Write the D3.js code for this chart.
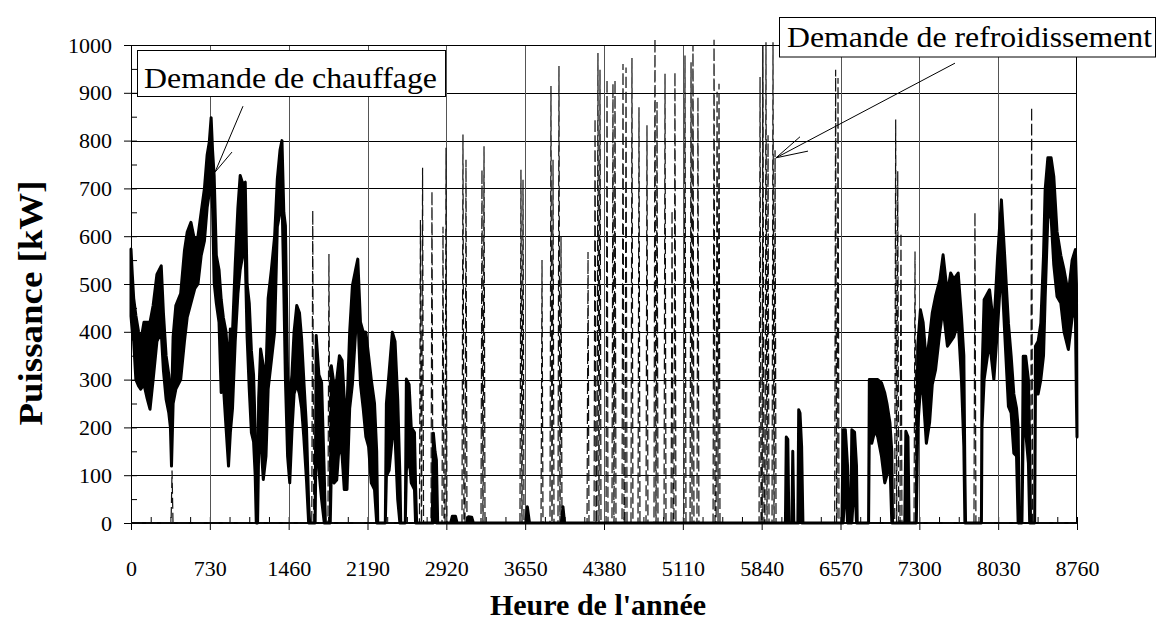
<!DOCTYPE html>
<html>
<head>
<meta charset="utf-8">
<script src="https://cdnjs.cloudflare.com/ajax/libs/d3/7.8.5/d3.min.js"></script>
<style>
  body { margin: 0; background: #fff; }
  svg { display: block; }
</style>
</head>
<body>
<script>
// heures de l'annee / puissance kW

var xTicks = [0, 730, 1460, 2190, 2920, 3650, 4380, 5110, 5840, 6570, 7300, 8030, 8760];
var yTicks = [0, 100, 200, 300, 400, 500, 600, 700, 800, 900, 1000];

// chauffage : bande journaliere [heure, min kW, max kW]
var heatBand = [
  [0,433,573],[12,400,520],[25,380,470],[45,300,434],[70,287,400],[90,280,380],[120,290,420],[150,260,420],
  [176,238,420],[205,300,455],[240,380,520],[280,400,538],[300,320,440],[325,259,350],[350,230,310],[365,200,270],
  [375,119,240],[390,250,390],[415,280,455],[460,300,480],[495,380,570],[520,430,608],[555,460,629],[590,490,590],
  [620,500,600],[650,560,650],[680,590,700],[705,660,770],[725,690,797],[742,720,848],[755,660,780],[770,503,727],
  [790,460,560],[815,420,530],[835,273,468],[855,290,430],[880,200,400],[903,119,320],[920,189,406],[940,240,400],
  [965,380,540],[990,480,660],[1011,530,727],[1035,560,710],[1058,560,713],[1075,390,500],[1095,280,460],[1115,189,360],
  [1135,170,310],[1150,100,200],[1160,0,60],[1172,0,0],[1182,150,260],[1200,180,364],[1225,91,329],[1250,140,310],
  [1270,280,470],[1300,340,530],[1330,400,600],[1355,620,720],[1380,650,780],[1398,690,800],[1415,490,650],[1430,300,622],
  [1450,140,310],[1470,84,260],[1490,190,310],[1510,270,400],[1535,290,455],[1560,270,440],[1580,240,385],[1600,180,300],
  [1625,90,200],[1645,0,40],[1655,0,0],[1705,0,0],[1715,200,392],[1740,110,310],[1765,49,294],[1790,0,100],
  [1800,0,0],[1845,0,0],[1855,110,329],[1880,84,290],[1905,90,300],[1930,170,350],[1955,140,340],[1975,70,260],
  [2000,70,240],[2025,240,400],[2050,290,496],[2080,400,530],[2100,440,552],[2125,290,420],[2150,240,400],[2175,180,399],
  [2200,160,350],[2225,84,300],[2255,70,250],[2275,0,150],[2285,0,0],[2355,0,0],[2365,98,250],[2390,110,315],
  [2420,180,399],[2445,180,380],[2470,49,259],[2490,0,100],[2498,0,0],[2540,0,0],[2550,110,301],[2575,140,290],
  [2595,84,200],[2625,70,189],[2635,0,80],[2645,0,0],
  [2790,0,0],[2800,0,188],[2815,60,150],[2828,0,132],[2840,0,0],
  [2960,0,0],[2975,0,14],[3005,0,14],[3020,0,0],
  [3110,0,0],[3125,0,13],[3155,0,12],[3170,0,0],
  [3655,0,0],[3670,0,34],[3690,0,0],
  [3985,0,0],[4000,0,34],[4015,0,0],
  [6060,0,0],[6068,0,180],[6082,0,175],[6092,0,0],[6120,0,0],[6128,0,150],[6138,0,0],
  [6175,0,0],[6183,0,237],[6195,100,230],[6210,0,160],[6222,0,0],
  [6583,0,0],[6595,0,195],[6615,100,195],[6635,0,120],[6650,0,0],[6665,0,0],[6675,0,195],[6700,100,190],[6718,0,120],[6725,0,0],
  [6830,0,0],[6837,200,300],[6860,167,300],[6890,195,300],[6915,180,300],[6950,139,293],[6980,84,272],[7000,100,250],
  [7028,126,209],[7045,0,150],[7052,0,0],[7165,0,0],[7175,0,192],[7195,0,180],[7205,0,0],[7272,0,0],
  [7285,200,370],[7310,280,446],[7335,270,420],[7365,167,335],[7395,210,390],[7420,290,440],[7450,320,474],[7490,400,509],
  [7520,450,561],[7560,370,480],[7590,380,523],[7620,390,510],[7660,420,523],[7690,300,432],[7712,160,350],[7722,0,100],
  [7728,0,0],[7875,0,0],[7880,200,307],[7900,300,467],[7950,380,488],[7990,300,410],[8025,410,558],[8060,540,676],
  [8090,400,560],[8125,244,418],[8150,230,350],[8175,146,270],[8200,140,240],[8215,0,200],[8225,0,0],[8250,0,0],
  [8262,195,349],[8285,190,349],[8310,126,300],[8322,0,150],[8330,0,0],[8368,0,0],[8375,270,370],[8400,270,380],
  [8425,300,418],[8450,350,560],[8465,470,697],[8490,640,764],[8520,640,764],[8545,540,725],[8575,474,610],[8610,460,560],
  [8640,400,530],[8680,363,480],[8715,430,550],[8745,439,572],[8755,250,500],[8760,180,195]
];

// refroidissement : pic de chaque journee [heure, kW]
var coolPeaks = [
  [380,110],[1683,654],[1833,563],[2680,634],[2700,743],[2787,694],[2889,620],[2917,785],[3074,813],[3102,760],
  [3250,739],[3269,788],[3611,739],[3630,718],[3806,550],[3889,914],[3908,760],[3963,956],[3982,600],
  [4232,567],[4297,846],[4324,983],[4343,948],[4408,928],[4463,919],[4482,927],[4556,960],[4584,953],[4639,973],
  [4704,870],[4778,832],[4852,1013],[4871,881],[4945,940],[5010,654],[5037,943],[5130,978],[5186,964],[5204,1000],
  [5250,891],[5399,1011],[5427,902],[5445,919],[5825,933],[5852,998],[5880,1006],[5899,811],[5945,1006],[5964,780],
  [6525,948],[6547,931],[7081,844],[7100,736],[7130,607],[7260,568],[7815,650],[8340,870]
];

// etiquettes : bout de la fleche et depart des traits (en heure, kW)
var chauffTip = [778, 734], chauffEnds = [[1037, 872], [935, 776]];
var refroidTip = [5973, 764], refroidEnds = [[7630, 962], [6195, 808], [6269, 778]];

var W = 1158, H = 620;
var L = 131, R = 1077, T = 45, B = 523;
var serif = "'Liberation Serif', 'Times New Roman', serif";

var svg = d3.select("body").append("svg").attr("width", W).attr("height", H);

var x = d3.scaleLinear().domain([0, 8760]).range([L, R]);
var y = d3.scaleLinear().domain([0, 1000]).range([B, T]);

// petites graduations vers l'interieur
var xMinor = d3.range(0, 8760.1, 182.5);
var yMinor = d3.range(0, 1000.1, 50);
svg.append("g").attr("transform", "translate(0," + B + ")")
  .call(d3.axisBottom(x).tickValues(xMinor).tickSize(-6).tickSizeOuter(0).tickFormat(""));
svg.append("g").attr("transform", "translate(" + L + ",0)")
  .call(d3.axisLeft(y).tickValues(yMinor).tickSize(-6).tickSizeOuter(0).tickFormat(""));

// axes
var xAxis = svg.append("g").attr("class", "ax").attr("transform", "translate(0," + B + ")")
  .call(d3.axisBottom(x).tickValues(xTicks).tickSize(7).tickSizeOuter(0).tickPadding(30).tickFormat(d3.format("d")));
var yAxis = svg.append("g").attr("class", "ax").attr("transform", "translate(" + L + ",0)")
  .call(d3.axisLeft(y).tickValues(yTicks).tickSize(7).tickSizeOuter(0).tickPadding(12).tickFormat(d3.format("d")));
svg.selectAll(".ax").attr("font-family", serif).attr("font-size", 22);
svg.selectAll(".ax text").attr("fill", "#000");
svg.selectAll(".ax line, .ax .domain").attr("stroke", "#000");

// grille (horizontale noire, verticale grise), posee au demi-pixel sinon elle disparait
var grid = svg.append("g").attr("shape-rendering", "crispEdges");
grid.selectAll(".gy").data(yTicks.slice(1, -1)).enter().append("line").attr("class", "gy")
  .attr("x1", L).attr("x2", R)
  .attr("y1", function(d){ return Math.round(y(d)) + 0.5; })
  .attr("y2", function(d){ return Math.round(y(d)) + 0.5; })
  .style("stroke", "#000").style("stroke-width", "1px");
grid.selectAll(".gx").data(xTicks.slice(1, -1)).enter().append("line").attr("class", "gx")
  .attr("y1", T).attr("y2", B)
  .attr("x1", function(d){ return Math.round(x(d)) + 0.5; })
  .attr("x2", function(d){ return Math.round(x(d)) + 0.5; })
  .style("stroke", "#555").style("stroke-width", "1px");

// cadre
svg.append("rect").attr("x", L + 0.5).attr("y", T + 0.5).attr("width", R - L - 1).attr("height", B - T - 1)
  .attr("fill", "none").attr("stroke", "#000").attr("stroke-width", 1);

// courbe refroidissement : chaque pic monte et redescend
var coolLine = [[0, 0]];
coolPeaks.forEach(function(p){
  coolLine.push([p[0] - 9, 0], [p[0], p[1]], [p[0] + 9, 0]);
});
coolLine.push([8760, 0]);

var line = d3.line().x(function(d){ return x(d[0]); }).y(function(d){ return y(d[1]); });

svg.append("path").datum(coolLine).attr("d", line)
  .attr("fill", "none").attr("stroke", "#111").attr("stroke-width", 1.2)
  .attr("stroke-dasharray", "11,4");

// chauffage : bande min/max pleine
var band = d3.area()
  .x(function(d){ return x(d[0]); })
  .y0(function(d){ return y(d[1]); })
  .y1(function(d){ return y(d[2]); });

svg.append("path").datum(heatBand).attr("d", band)
  .attr("fill", "#000").attr("stroke", "#000").attr("stroke-width", 3)
  .attr("stroke-linejoin", "round");

// titres
svg.append("text").attr("x", 598).attr("y", 615).attr("text-anchor", "middle")
  .style("font-family", serif).style("font-size", "30px").style("font-weight", "bold")
  .text("Heure de l'année");
svg.append("text").attr("transform", "translate(42,303) rotate(-90)").attr("text-anchor", "middle")
  .attr("textLength", 245).attr("lengthAdjust", "spacingAndGlyphs")
  .style("font-family", serif).style("font-size", "34px").style("font-weight", "bold")
  .text("Puissance [kW]");

// etiquettes avec traits
function callout(bx, by, bw, bh, tx, ty, tw, label, tip, ends) {
  ends.forEach(function(e){
    svg.append("line")
      .attr("x1", x(e[0])).attr("y1", y(e[1]))
      .attr("x2", x(tip[0])).attr("y2", y(tip[1]))
      .attr("stroke", "#000").attr("stroke-width", 1);
  });
  svg.append("rect").attr("x", bx).attr("y", by).attr("width", bw).attr("height", bh)
    .attr("fill", "#fff").attr("stroke", "#000").attr("stroke-width", 1);
  svg.append("text").attr("x", tx).attr("y", ty)
    .attr("textLength", tw).attr("lengthAdjust", "spacingAndGlyphs")
    .style("font-family", serif).style("font-size", "30px")
    .text(label);
}

callout(137.5, 50.5, 308, 46, 144, 88, 293, "Demande de chauffage", chauffTip, chauffEnds);
callout(779.5, 17.5, 376, 39.5, 787, 47, 365, "Demande de refroidissement", refroidTip, refroidEnds);
</script>
</body>
</html>
